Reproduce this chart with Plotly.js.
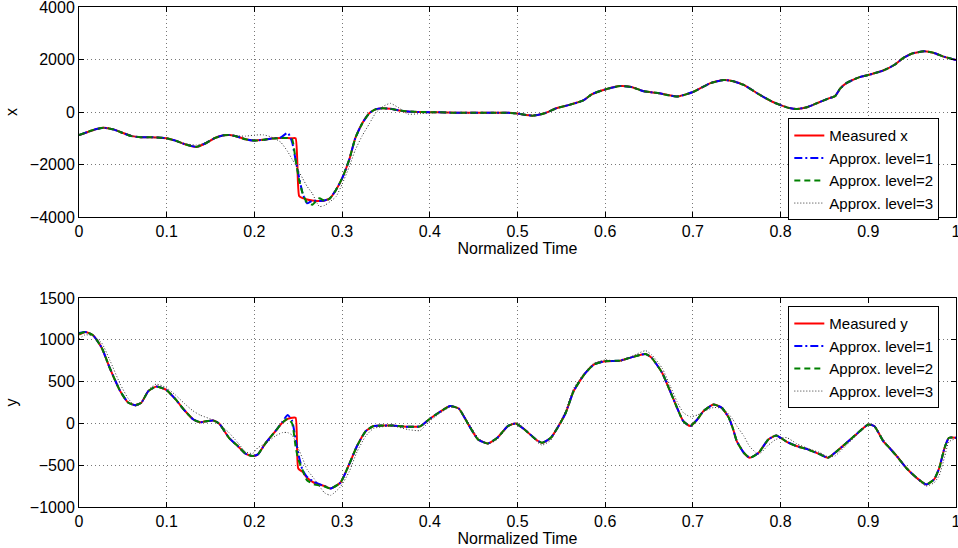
<!DOCTYPE html>
<html>
<head>
<meta charset="utf-8">
<script src="https://cdn.plot.ly/plotly-3.0.1.min.js"></script>
<style>html,body{margin:0;padding:0;background:#fff;}#chart{width:958px;height:548px;}</style>
</head>
<body>
<div id="chart"></div>
<script>
// ---------- top panel: x ----------
var tX = [0,0.01,0.02,0.028,0.04,0.05,0.06,0.07,0.08,0.09,0.1,0.11,0.12,0.134,0.145,0.155,0.165,0.172,0.18,0.19,0.2,0.21,0.22,0.23,0.238,0.243,0.247,0.251,0.255,0.26,0.266,0.274,0.28,0.286,0.293,0.3,0.308,0.315,0.323,0.331,0.338,0.346,0.355,0.365,0.375,0.39,0.41,0.43,0.45,0.47,0.49,0.5,0.517,0.53,0.545,0.56,0.575,0.585,0.6,0.617,0.63,0.644,0.66,0.682,0.7,0.72,0.735,0.745,0.758,0.776,0.79,0.8,0.81,0.818,0.83,0.841,0.855,0.862,0.868,0.875,0.89,0.9,0.917,0.93,0.94,0.95,0.964,0.975,0.985,1.0];
var xMeasured = [-880,-760,-650,-600,-670,-800,-920,-960,-960,-970,-1000,-1090,-1220,-1330,-1180,-990,-890,-880,-930,-1040,-1090,-1060,-1010,-990,-990,-1000,-1000,-3200,-3280,-3330,-3370,-3390,-3370,-3290,-2970,-2530,-1830,-1000,-430,-50,100,140,120,60,20,0,-10,-30,-30,-30,-30,-60,-140,-60,150,280,440,680,860,990,950,790,720,590,760,1100,1220,1180,1030,660,400,260,150,110,180,330,520,600,900,1100,1330,1410,1580,1800,2060,2230,2310,2250,2120,1980];
var xLevel1 = [-880,-760,-650,-600,-670,-800,-920,-960,-960,-970,-1000,-1090,-1220,-1330,-1180,-990,-890,-880,-930,-1040,-1090,-1060,-1010,-970,-790,-1150,-1830,-2500,-3100,-3480,-3380,-3390,-3370,-3290,-2970,-2530,-1830,-1000,-430,-50,100,140,120,60,20,0,-10,-30,-30,-30,-30,-60,-140,-60,150,280,440,680,860,990,950,790,720,590,760,1100,1220,1180,1030,660,400,260,150,110,180,330,520,600,900,1100,1330,1410,1580,1800,2060,2230,2310,2250,2120,1980];
var xLevel2 = [-880,-760,-650,-600,-670,-800,-920,-960,-960,-970,-1000,-1090,-1220,-1330,-1180,-990,-890,-880,-930,-1040,-1090,-1060,-1010,-990,-990,-1040,-1830,-2590,-3100,-3450,-3530,-3290,-3380,-3300,-2970,-2530,-1830,-1000,-430,-50,100,140,120,60,20,0,-10,-30,-30,-30,-30,-60,-140,-60,150,280,440,680,860,990,950,790,720,590,760,1100,1220,1180,1030,660,400,260,150,110,180,330,520,600,900,1100,1330,1410,1580,1800,2060,2230,2310,2250,2120,1980];
var xLevel3 = [-900,-780,-660,-610,-650,-780,-900,-960,-970,-990,-1030,-1110,-1200,-1260,-1160,-1000,-910,-890,-910,-920,-880,-870,-960,-1150,-1510,-1800,-2020,-2280,-2530,-2830,-3100,-3600,-3560,-3420,-3230,-2750,-2100,-1450,-900,-450,-50,200,330,150,-80,-60,-20,-30,-40,-40,-30,-70,-130,-70,140,290,430,650,850,990,950,790,720,600,750,1090,1220,1180,1040,670,410,270,150,110,180,330,530,640,880,1090,1330,1410,1580,1800,2050,2230,2310,2250,2120,1980];

// ---------- bottom panel: y ----------
var tY = [0,0.007,0.016,0.026,0.035,0.047,0.056,0.064,0.071,0.079,0.088,0.099,0.11,0.12,0.13,0.138,0.153,0.16,0.171,0.181,0.19,0.198,0.204,0.213,0.224,0.232,0.238,0.243,0.247,0.25,0.255,0.26,0.268,0.28,0.287,0.298,0.308,0.317,0.327,0.336,0.357,0.376,0.389,0.399,0.41,0.423,0.433,0.444,0.455,0.466,0.477,0.489,0.498,0.508,0.521,0.528,0.538,0.549,0.555,0.564,0.576,0.587,0.6,0.617,0.628,0.646,0.653,0.665,0.674,0.682,0.689,0.697,0.705,0.712,0.7235,0.733,0.741,0.746,0.75,0.758,0.765,0.775,0.786,0.795,0.807,0.818,0.831,0.845,0.854,0.862,0.873,0.886,0.9,0.907,0.917,0.924,0.934,0.943,0.955,0.966,0.975,0.981,0.987,0.992,1.0];
var yMeasured = [1062,1094,1055,903,664,386,250,218,246,386,440,405,290,160,50,15,35,-5,-172,-271,-363,-391,-370,-232,-92,10,55,67,67,-540,-580,-650,-710,-749,-778,-710,-491,-271,-92,-32,-25,-41,-35,47,127,207,178,-13,-192,-240,-172,-32,0,-73,-192,-232,-172,7,127,386,584,704,744,751,784,831,784,604,386,186,27,-32,47,147,226,186,67,-73,-211,-351,-411,-351,-192,-144,-220,-271,-311,-371,-411,-351,-252,-132,-13,-35,-211,-291,-411,-530,-650,-730,-670,-530,-291,-172,-172];
var yLevel1 = [1080,1094,1055,903,664,386,250,218,246,386,440,405,290,160,50,15,35,-5,-172,-271,-363,-391,-370,-232,-92,20,100,30,-190,-360,-560,-640,-700,-749,-778,-710,-491,-271,-92,-32,-25,-41,-35,47,127,207,178,-13,-192,-240,-172,-32,0,-73,-192,-232,-172,7,127,386,584,704,744,751,784,831,784,604,386,186,27,-32,47,147,226,186,67,-73,-211,-351,-411,-351,-192,-144,-220,-271,-311,-371,-411,-351,-252,-132,-13,-35,-211,-291,-411,-530,-650,-730,-670,-530,-291,-172,-172];
var yLevel2 = [1070,1094,1055,903,664,386,250,218,246,386,440,405,290,160,50,15,35,-5,-172,-271,-363,-391,-370,-232,-92,10,55,0,-280,-430,-560,-680,-730,-755,-778,-710,-491,-271,-92,-32,-25,-41,-35,47,127,207,178,-13,-192,-240,-172,-32,0,-73,-192,-232,-172,7,127,386,584,704,744,751,784,831,784,604,386,186,27,-32,47,147,226,186,67,-73,-211,-351,-411,-351,-192,-144,-220,-271,-311,-371,-411,-351,-252,-132,-13,-35,-211,-291,-411,-530,-650,-730,-670,-530,-291,-172,-172];
var yLevel3 = [1010,1060,1045,960,760,470,300,205,240,400,470,430,340,240,150,100,40,-10,-110,-230,-340,-360,-290,-240,-150,-110,-110,-140,-220,-300,-420,-550,-660,-830,-860,-760,-580,-340,-150,-60,-30,-75,-85,20,110,195,175,10,-170,-250,-190,-40,0,-60,-210,-260,-200,30,150,420,600,720,760,740,790,870,820,660,450,260,130,80,100,140,190,180,110,40,-30,-150,-280,-370,-260,-190,-170,-240,-300,-350,-400,-390,-280,-150,-20,-30,-190,-280,-400,-530,-660,-750,-710,-620,-400,-220,-180];

// ---------- ticks and labels ----------
var timeTicks = [0,0.1,0.2,0.3,0.4,0.5,0.6,0.7,0.8,0.9,1];
var timeTickText = ['0','0.1','0.2','0.3','0.4','0.5','0.6','0.7','0.8','0.9','1'];
var xTicks = [-4000,-2000,0,2000,4000];
var xTickText = ['\u22124000','\u22122000','0','2000','4000'];
var yTicks = [-1000,-500,0,500,1000,1500];
var yTickText = ['\u22121000','\u2212500','0','500','1000','1500'];
var seriesNames = ['Approx. level=1','Approx. level=2','Approx. level=3'];

var FONT = 'Liberation Sans, Arial, Helvetica, sans-serif';

var styles = [
  {color:'#ff0000', width:2, dash:'solid'},
  {color:'#0000ff', width:2, dash:'8px,3px,2px,3px'},
  {color:'#008000', width:2, dash:'6px,4px'},
  {color:'#333333', width:1, dash:'1px,2px'}
];

function mk(t, v, name, st, xa, ya, leg) {
  return {x:t, y:v, name:name, type:'scatter', mode:'lines', xaxis:xa, yaxis:ya, legend:leg,
    line:{color:st.color, width:st.width, dash:st.dash, shape:'spline', smoothing:0.5}};
}

var data = [
  mk(tX, xMeasured, 'Measured x', styles[0], 'x', 'y', 'legend'),
  mk(tX, xLevel1, seriesNames[0], styles[1], 'x', 'y', 'legend'),
  mk(tX, xLevel2, seriesNames[1], styles[2], 'x', 'y', 'legend'),
  mk(tX, xLevel3, seriesNames[2], styles[3], 'x', 'y', 'legend'),
  mk(tY, yMeasured, 'Measured y', styles[0], 'x2', 'y2', 'legend2'),
  mk(tY, yLevel1, seriesNames[0], styles[1], 'x2', 'y2', 'legend2'),
  mk(tY, yLevel2, seriesNames[1], styles[2], 'x2', 'y2', 'legend2'),
  mk(tY, yLevel3, seriesNames[2], styles[3], 'x2', 'y2', 'legend2')
];

function common() {
  return {ticks:'inside', ticklen:5, tickcolor:'#000', showline:true, linecolor:'#000', linewidth:1,
    mirror:'allticks', showgrid:true, gridcolor:'#777', griddash:'1px,3px', gridwidth:1, zeroline:false,
    tickfont:{family:FONT, size:16, color:'#000'}, automargin:false, ticklabeloverflow:'allow'};
}
function xAxis(anchor) {
  var a = common();
  a.anchor = anchor; a.range = [0,1]; a.tickvals = timeTicks; a.ticktext = timeTickText;
  a.title = {text:'Normalized Time', font:{family:FONT, size:16, color:'#000'}, standoff:0};
  return a;
}
function yAxis(anchor, domain, range, tv, tt, label) {
  var a = common();
  a.anchor = anchor; a.domain = domain; a.range = range; a.tickvals = tv; a.ticktext = tt;
  a.title = {text:label, font:{family:FONT, size:16, color:'#000'}, standoff:8};
  return a;
}

var legendStyle = function(ytop) {
  return {x:0.8088, y:ytop, xanchor:'left', yanchor:'top', bgcolor:'#fff', bordercolor:'#000', borderwidth:1,
    font:{family:FONT, size:15, color:'#000'}, tracegroupgap:0, itemwidth:30};
};

var layout = {
  width:958, height:548,
  margin:{l:79, r:2, t:7, b:41, pad:0},
  paper_bgcolor:'#fff', plot_bgcolor:'#fff',
  showlegend:true,
  xaxis:xAxis('y'),
  yaxis:yAxis('x', [0.58,1], [-4000,4000], xTicks, xTickText, 'x'),
  xaxis2:xAxis('y2'),
  yaxis2:yAxis('x2', [0,0.418], [-1000,1500], yTicks, yTickText, 'y'),
  legend:legendStyle(0.7774),
  legend2:legendStyle(0.4014)
};

Plotly.newPlot('chart', data, layout, {displayModeBar:false, staticPlot:true});
</script>
</body>
</html>
